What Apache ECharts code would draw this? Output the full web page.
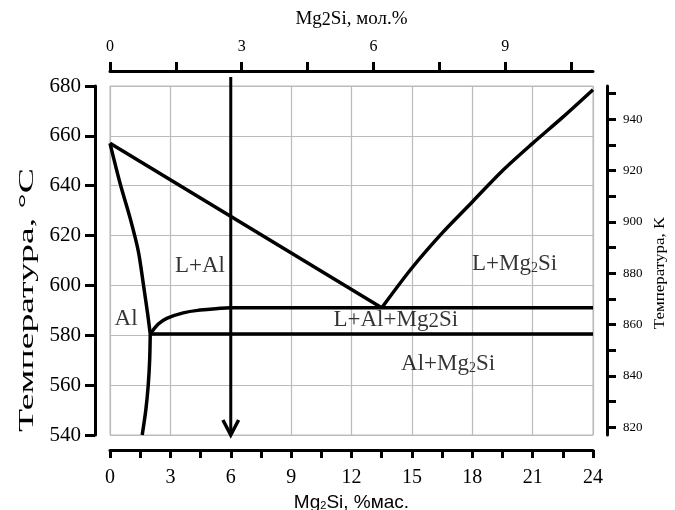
<!DOCTYPE html>
<html><head><meta charset="utf-8">
<script src="https://cdn.jsdelivr.net/npm/echarts@6/dist/echarts.min.js"></script>
<style>html,body{margin:0;padding:0;background:#fff}#c{width:675px;height:510px}</style>
</head><body><div id="c"></div>
<script>
// ---- data ----
const molTickValues = [0, 1.5, 3, 4.5, 6, 7.5, 9, 10.5];
const molLabelValues = [0, 3, 6, 9];
const kelvinTickValues = [820, 830, 840, 850, 860, 870, 880, 890, 900, 910, 920, 930, 940, 950];
const kelvinLabelValues = [820, 840, 860, 880, 900, 920, 940];
// Al solid-solution boundary, wt% Mg2Si vs °C
const solidusAl = [[0,657],[0.5,641],[1.0,627],[1.4,614],[1.65,601],[1.88,588],[2.0,580.5]];
const solvusAl = [[2.0,580.5],[1.97,570],[1.9,560],[1.78,550],[1.6,540]];
const liquidusAl = [[0,657],[13.5,591]];
const liquidusMg2Si = [[13.5,591],[15,607],[16.5,621],[18,633.5],[19.5,646],[21,657],[22.5,667.5],[24,678.5]];
const threePhaseUpper = [[2.0,580.5],[2.4,584.5],[2.82,586.8],[3.64,589.0],[4.47,590.1],[5.47,590.8],[6,591],[24,591]];
const eutecticLower = [[2.0,580.5],[24,580.5]];
const arrowShaft = [[6,683.6],[6,540.5]];
const arrowHead = [[5.61,546],[6,540],[6.39,546]];
const regionLabels = ['L+Al', 'Al', 'L+Mg{s|2}Si', 'L+Al+Mg{m|2}Si', 'Al+Mg{s|2}Si'];
const regionAnchors = [[4.47,607.8],[0.8,586.5],[20.1,608.6],[14.2,586.1],[16.8,568.5]];

// ---- chart ----
const serif = '"Liberation Serif", "Times New Roman", serif';
const chart = echarts.init(document.getElementById('c'), null, {renderer: 'canvas'});
const lineSeries = (data, extra) => Object.assign({
  type: 'line', data: data, xAxisIndex: 0, yAxisIndex: 0,
  symbol: 'none', showSymbol: false, silent: true,
  lineStyle: {color: '#000', width: 3.5, join: 'round', cap: 'butt'}
}, extra || {});
const richSub = {
  s: {fontSize: 14, fontFamily: serif, color: '#000', lineHeight: 5, verticalAlign: 'bottom'},
  m: {fontSize: 21, fontFamily: serif, color: '#000', lineHeight: 17, verticalAlign: 'bottom'}
};
const option = {
  animation: false,
  backgroundColor: '#fff',
  grid: {left: 110, right: 82, top: 86, bottom: 75, show: true, borderColor: '#bbb', borderWidth: 1,
    containLabel: false, outerBoundsMode: 'none'},
  xAxis: [{
    type: 'value', min: 0, max: 24, interval: 3, position: 'bottom', offset: 15,
    axisLine: {show: true, onZero: false, lineStyle: {color: '#000', width: 3}},
    axisTick: {show: true, length: 8, lineStyle: {color: '#000', width: 3}},
    minorTick: {show: true, splitNumber: 2, length: 8, lineStyle: {color: '#000', width: 3}},
    axisLabel: {fontFamily: serif, fontSize: 20, color: '#000', margin: 18},
    splitLine: {show: true, lineStyle: {color: '#bbb', width: 1.2}},
    name: 'Mg{b|2}Si, %мас.', nameLocation: 'middle', nameGap: 42,
    nameTextStyle: {fontFamily: '"Liberation Sans", Arial, sans-serif', fontSize: 19, color: '#000',
      rich: {b: {fontFamily: '"Liberation Sans", Arial, sans-serif', fontSize: 11, color: '#000', lineHeight: 5, verticalAlign: 'bottom'}}}
  }, {
    type: 'value', min: 0, max: 11, position: 'top', offset: 15,
    axisLine: {show: true, onZero: false, lineStyle: {color: '#000', width: 3}},
    axisTick: {show: true, length: 9, customValues: molTickValues, lineStyle: {color: '#000', width: 3}},
    axisLabel: {fontFamily: serif, fontSize: 16, color: '#000', margin: 16, customValues: molLabelValues},
    splitLine: {show: false},
    name: 'Mg{t|2}Si, мол.%', nameLocation: 'middle', nameGap: 42,
    nameTextStyle: {fontFamily: serif, fontSize: 19, color: '#000',
      rich: {t: {fontFamily: serif, fontSize: 18, color: '#000', lineHeight: 15, verticalAlign: 'bottom'}}}
  }],
  yAxis: [{
    type: 'value', min: 540, max: 680, interval: 20, position: 'left', offset: 15,
    axisLine: {show: true, onZero: false, lineStyle: {color: '#000', width: 3}},
    axisTick: {show: true, length: 10, lineStyle: {color: '#000', width: 3}},
    axisLabel: {fontFamily: serif, fontSize: 21, color: '#000', margin: 14},
    splitLine: {show: true, lineStyle: {color: '#bbb', width: 1.2}}
  }, {
    type: 'value', min: 817, max: 953, position: 'right', offset: 14,
    axisLine: {show: true, onZero: false, lineStyle: {color: '#000', width: 3}},
    axisTick: {show: true, length: 9, customValues: kelvinTickValues, lineStyle: {color: '#000', width: 3}},
    axisLabel: {fontFamily: serif, fontSize: 13, color: '#000', margin: 16, customValues: kelvinLabelValues},
    splitLine: {show: false}
  }],
  graphic: [
    {type: 'text', x: 27, y: 300, rotation: Math.PI / 2, scaleX: 1.8, silent: true,
      style: {text: 'Температура, °C', font: '21px "Liberation Serif"', fill: '#000', align: 'center', verticalAlign: 'middle'}},
    {type: 'text', x: 660, y: 273, rotation: Math.PI / 2, scaleX: 1.13, silent: true,
      style: {text: 'Температура, K', font: '15px "Liberation Serif"', fill: '#000', align: 'center', verticalAlign: 'middle'}}
  ],
  series: [
    lineSeries(solidusAl, {smooth: 0.3}),
    lineSeries(solvusAl, {smooth: 0.3}),
    lineSeries(liquidusAl),
    lineSeries(liquidusMg2Si, {smooth: 0.3}),
    lineSeries(threePhaseUpper, {smooth: 0.4}),
    lineSeries(eutecticLower),
    lineSeries(arrowShaft, {clip: false, lineStyle: {color: '#000', width: 3}}),
    lineSeries(arrowHead, {clip: false, lineStyle: {color: '#000', width: 3.5, join: 'miter'}}),
    {
      type: 'scatter', xAxisIndex: 0, yAxisIndex: 0, symbolSize: 0, silent: true,
      data: regionAnchors.map((c, i) => ({value: c, name: regionLabels[i]})),
      label: {show: true, position: 'inside', formatter: p => p.name,
        fontFamily: serif, fontSize: 23, color: '#000', rich: richSub}
    }
  ]
};
chart.setOption(option);
</script>
</body></html>
